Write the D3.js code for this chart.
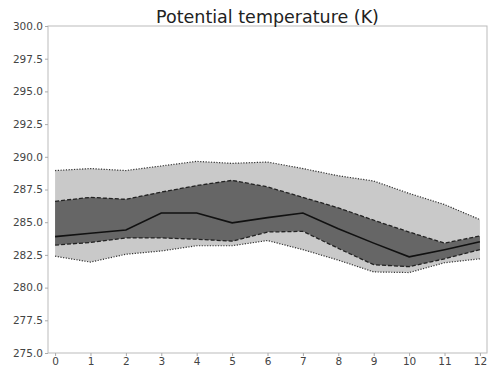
<!DOCTYPE html>
<html>
<head>
<meta charset="utf-8">
<script src="https://cdn.jsdelivr.net/npm/d3@7"></script>
<style>
  body { margin: 0; background: #fff; }
  text { font-family: "DejaVu Sans", sans-serif; }
</style>
</head>
<body>
<svg width="494" height="367"></svg>
<script>
var steps = [0, 1, 2, 3, 4, 5, 6, 7, 8, 9, 10, 11, 12];
var meanVals = [283.9, 284.15, 284.4, 285.7, 285.7, 284.95, 285.35, 285.7, 284.5, 283.4, 282.35, 282.9, 283.5];
var innerHigh = [286.6, 286.9, 286.75, 287.3, 287.8, 288.2, 287.7, 286.9, 286.1, 285.15, 284.25, 283.4, 283.95];
var innerLow = [283.25, 283.45, 283.8, 283.8, 283.7, 283.55, 284.25, 284.3, 283.0, 281.75, 281.6, 282.2, 282.9];
var outerHigh = [288.95, 289.1, 288.95, 289.3, 289.65, 289.5, 289.6, 289.1, 288.55, 288.15, 287.2, 286.35, 285.2];
var outerLow = [282.4, 281.95, 282.55, 282.8, 283.2, 283.2, 283.6, 282.9, 282.1, 281.2, 281.15, 281.9, 282.2];
var yTicks = [275, 277.5, 280, 282.5, 285, 287.5, 290, 292.5, 295, 297.5, 300];

var svg = d3.select('svg');
var margin = { left: 48, top: 26, right: 7, bottom: 14 };
var w = 494 - margin.left - margin.right,
  h = 367 - margin.top - margin.bottom;

var x = d3.scaleLinear().domain([-0.2, 12.2]).range([0, w]);
var y = d3.scaleLinear().domain([275, 300]).range([h, 0]);

var g = svg.append('g').attr('transform', 'translate(' + margin.left + ',' + margin.top + ')');

function band(lo, hi) {
  return d3.area()
    .x(function(d, i) { return x(steps[i]); })
    .y0(function(d, i) { return y(lo[i]); })
    .y1(function(d, i) { return y(hi[i]); })(steps);
}
function line(vals) {
  return d3.line()
    .x(function(d, i) { return x(steps[i]); })
    .y(function(d, i) { return y(vals[i]); })(steps);
}

g.append('path').attr('d', band(outerLow, outerHigh)).attr('fill', '#c9c9c9');
g.append('path').attr('d', band(innerLow, innerHigh)).attr('fill', '#666666');

[outerHigh, outerLow].forEach(function(v) {
  g.append('path').attr('d', line(v)).attr('fill', 'none')
    .attr('stroke', '#333').attr('stroke-width', 1.2).attr('stroke-dasharray', '1.2,1.5');
});
[innerHigh, innerLow].forEach(function(v) {
  g.append('path').attr('d', line(v)).attr('fill', 'none')
    .attr('stroke', '#222').attr('stroke-width', 1.3).attr('stroke-dasharray', '4,2');
});
g.append('path').attr('d', line(meanVals)).attr('fill', 'none')
  .attr('stroke', '#111').attr('stroke-width', 1.6);

// frame
g.append('rect').attr('width', w).attr('height', h)
  .attr('fill', 'none').attr('stroke', '#bbb').attr('stroke-width', 1);

var yAxis = g.append('g')
  .call(d3.axisLeft(y).tickValues(yTicks).tickFormat(d3.format('.1f')).tickSize(3).tickPadding(2));
var xAxis = g.append('g').attr('transform', 'translate(0,' + h + ')')
  .call(d3.axisBottom(x).tickValues(steps).tickFormat(d3.format('d')).tickSize(3).tickPadding(2));
[yAxis, xAxis].forEach(function(a) {
  a.select('.domain').remove();
  a.selectAll('line').attr('stroke', '#aaa');
  a.selectAll('text').attr('fill', '#444').style('font-size', '10.5px');
});

svg.append('text')
  .attr('x', margin.left + w / 2).attr('y', 23)
  .attr('text-anchor', 'middle')
  .style('font-size', '17.5px').attr('fill', '#222')
  .text('Potential temperature (K)');
</script>
</body>
</html>
